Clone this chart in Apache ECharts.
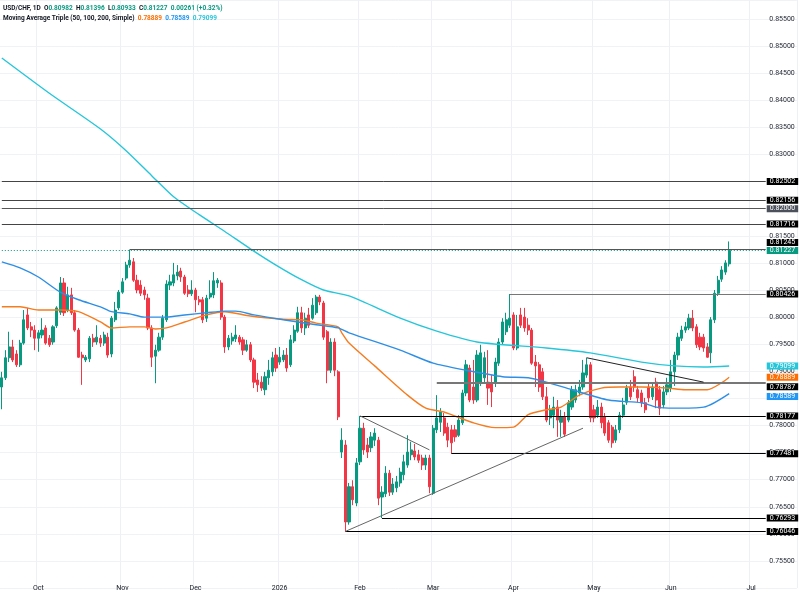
<!DOCTYPE html>
<html><head><meta charset="utf-8">
<script src="https://cdn.jsdelivr.net/npm/echarts@6/dist/echarts.min.js"></script>
<style>html,body{margin:0;padding:0;background:#fff}#c{width:800px;height:594px}</style>
</head><body><div id="c"></div>
<script>
// ---------- data ----------
const firstDate = '2025-09-17';      // first daily bar (weekdays only)
const categoryCount = 218;           // bars on the axis incl. empty future space
// daily candles: [open, close, low, high]
const ohlc = [
[0.7871,0.7888,0.7830,0.7899],[0.7888,0.7925,0.7884,0.7939],[0.7925,0.7945,0.7917,0.7973],[0.7945,0.7921,0.7917,0.7958],
[0.7932,0.7912,0.7908,0.7939],[0.7912,0.7952,0.7908,0.7958],[0.7952,0.7995,0.7949,0.8013],[0.8004,0.7980,0.7976,0.8017],
[0.7982,0.7976,0.7963,0.7991],[0.7976,0.7961,0.7939,0.7985],
[0.7961,0.7971,0.7936,0.7976],[0.7967,0.7976,0.7961,0.7998],[0.7980,0.7952,0.7949,0.7985],[0.7961,0.7949,0.7945,0.7967],
[0.7954,0.7982,0.7949,0.7985],[0.7984,0.8017,0.7980,0.8020],[0.8009,0.8063,0.8004,0.8074],[0.8063,0.8008,0.8002,0.8072],
[0.8013,0.8041,0.8009,0.8056],[0.8041,0.8008,0.8004,0.8054],[0.8008,0.7976,0.7973,0.8013],[0.7976,0.7926,0.7925,0.7980],
[0.7930,0.7925,0.7875,0.7936],[0.7921,0.7926,0.7917,0.7930],[0.7923,0.7961,0.7917,0.7965],[0.7961,0.7954,0.7945,0.7969],
[0.7954,0.7963,0.7949,0.7985],[0.7961,0.7952,0.7945,0.7967],[0.7952,0.7967,0.7947,0.7973],[0.7963,0.7930,0.7925,0.7971],
[0.7932,0.7998,0.7926,0.8002],[0.7995,0.8013,0.7991,0.8028],[0.8017,0.8046,0.8013,0.8050],[0.8046,0.8065,0.8043,0.8072],
[0.8072,0.8096,0.8068,0.8102],[0.8096,0.8105,0.8091,0.81245],[0.8102,0.8068,0.8065,0.8109],[0.8068,0.8050,0.8044,0.8078],
[0.8059,0.8044,0.8039,0.8068],[0.8050,0.8041,0.8032,0.8056],[0.8035,0.7980,0.7976,0.8043],[0.7980,0.7926,0.7908,0.7985],
[0.7928,0.7939,0.7878,0.7949],[0.7939,0.7963,0.7936,0.7971],[0.7963,0.7998,0.7958,0.8004],[0.7995,0.8061,0.7991,0.8068],
[0.8059,0.8065,0.8050,0.8078],[0.8063,0.8078,0.8057,0.8100],[0.8076,0.8083,0.8068,0.8096],[0.8085,0.8074,0.8065,0.8091],
[0.8074,0.8044,0.8041,0.8078],[0.8050,0.8043,0.8037,0.8059],[0.8043,0.8050,0.8039,0.8068],[0.8050,0.8032,0.8009,0.8054],
[0.8032,0.8028,0.8022,0.8039],[0.8032,0.7995,0.7989,0.8037],[0.7998,0.8035,0.7991,0.8041],[0.8037,0.8044,0.8033,0.8068],
[0.8041,0.8067,0.8035,0.8083],[0.8063,0.8068,0.8054,0.8072],[0.8063,0.8000,0.7995,0.8068],[0.8000,0.7945,0.7934,0.8004],
[0.7945,0.7961,0.7939,0.7967],[0.7956,0.7963,0.7949,0.7971],[0.7960,0.7967,0.7954,0.7985],[0.7963,0.7954,0.7949,0.7967],
[0.7958,0.7939,0.7930,0.7963],[0.7939,0.7949,0.7936,0.7958],[0.7949,0.7921,0.7917,0.7954],[0.7921,0.7880,0.7869,0.7925],
[0.7884,0.7875,0.7862,0.7897],[0.7880,0.7869,0.7864,0.7891],[0.7866,0.7890,0.7856,0.7899],[0.7888,0.7902,0.7875,0.7921],
[0.7899,0.7925,0.7891,0.7936],[0.7930,0.7906,0.7899,0.7943],[0.7917,0.7926,0.7912,0.7945],[0.7921,0.7930,0.7917,0.7939],
[0.7930,0.7906,0.7899,0.7943],[0.7912,0.7958,0.7908,0.7967],[0.7956,0.7976,0.7952,0.7985],[0.7974,0.8008,0.7971,0.8019],
[0.8008,0.7980,0.7971,0.8019],[0.7980,0.7998,0.7967,0.8008],[0.8004,0.7985,0.7980,0.8017],[0.7998,0.8022,0.7995,0.8035],
[0.8008,0.8037,0.8004,0.8041],[0.8037,0.8028,0.8022,0.8041],[0.8026,0.7963,0.7958,0.8030],[0.7973,0.7902,0.7878,0.7976],
[0.7902,0.7954,0.7897,0.7961],[0.7954,0.7902,0.7891,0.7961],[0.7899,0.7816,0.7810,0.7902],[0.7751,0.7773,0.7740,0.7795],
[0.7764,0.7622,0.76046,0.7773],[0.7622,0.7687,0.7617,0.7694],[0.7687,0.7663,0.7653,0.7699],[0.7657,0.7731,0.7651,0.7740],
[0.7733,0.7795,0.7727,0.78177],[0.7795,0.7755,0.7746,0.7805],[0.7764,0.7751,0.7740,0.7777],[0.7759,0.7779,0.7751,0.7788],
[0.7773,0.7786,0.7762,0.7795],[0.7773,0.7666,0.7653,0.7779],[0.7668,0.7677,0.76293,0.7688],[0.7674,0.7712,0.7668,0.7725],
[0.7712,0.7677,0.7670,0.7718],[0.7677,0.7692,0.7672,0.7703],[0.7685,0.7696,0.7677,0.7707],[0.7694,0.7714,0.7687,0.7722],
[0.7709,0.7733,0.7699,0.7746],[0.7727,0.7751,0.7722,0.7782],[0.7746,0.7755,0.7736,0.7770],[0.7753,0.7742,0.7736,0.7766],
[0.7746,0.7736,0.7731,0.7755],[0.7740,0.7727,0.7718,0.7746],[0.7727,0.7740,0.7718,0.7746],[0.7740,0.7687,0.7675,0.7746],
[0.7675,0.7795,0.7672,0.7801],[0.7792,0.7814,0.7786,0.7856],[0.7806,0.7825,0.7788,0.7832],[0.7814,0.7786,0.7781,0.7823],
[0.7797,0.7773,0.7760,0.7805],[0.7792,0.7768,0.77481,0.7801],[0.7792,0.7779,0.7770,0.7801],[0.7782,0.7810,0.7779,0.7819],
[0.7805,0.7860,0.7801,0.7866],[0.7860,0.7912,0.7854,0.7921],[0.7906,0.7847,0.7843,0.7912],[0.7871,0.7847,0.7840,0.7921],
[0.7847,0.7930,0.7843,0.7939],[0.7878,0.7934,0.7873,0.7949],[0.7888,0.7925,0.7880,0.7936],[0.7880,0.7869,0.7838,0.7939],
[0.7878,0.7862,0.7834,0.7893],[0.7878,0.7917,0.7871,0.7925],[0.7915,0.7954,0.7910,0.7961],[0.7954,0.7991,0.7949,0.7998],
[0.7973,0.7995,0.7967,0.8008],[0.7985,0.7998,0.7980,0.80426],[0.8004,0.7943,0.7939,0.8009],[0.7943,0.7982,0.7939,0.8004],
[0.8004,0.7985,0.7980,0.8017],[0.8000,0.7980,0.7973,0.8017],[0.7985,0.7976,0.7967,0.7998],[0.7976,0.7915,0.7912,0.7980],
[0.7917,0.7910,0.7871,0.7930],[0.7912,0.7871,0.7862,0.7917],[0.7899,0.7853,0.7847,0.7906],[0.7853,0.7810,0.7806,0.7871],
[0.7814,0.7829,0.7801,0.7838],[0.7819,0.7834,0.7795,0.7853],[0.7834,0.7810,0.7779,0.7847],[0.7806,0.7816,0.7779,0.7829],
[0.7816,0.7784,0.7779,0.7825],[0.7810,0.7842,0.7806,0.7847],[0.7834,0.7866,0.7829,0.7873],[0.7847,0.7866,0.7842,0.7875],
[0.7860,0.7871,0.7854,0.7884],[0.7871,0.7897,0.7866,0.7921],[0.7893,0.7912,0.7888,0.7925],[0.7912,0.7814,0.7806,0.7917],
[0.7829,0.7814,0.7806,0.7838],[0.7819,0.7834,0.7814,0.7847],[0.7834,0.7805,0.7795,0.7842],[0.7816,0.7786,0.7781,0.7823],
[0.7805,0.7773,0.7768,0.7810],[0.7797,0.7768,0.7759,0.7801],[0.7773,0.7792,0.7768,0.7801],[0.7792,0.7819,0.7786,0.7825],
[0.7819,0.7838,0.7814,0.7851],[0.7843,0.7869,0.7838,0.7875],[0.7871,0.7853,0.7847,0.7884],[0.7890,0.7871,0.7862,0.7902],
[0.7866,0.7851,0.7843,0.7873],[0.7860,0.7842,0.7834,0.7866],[0.7842,0.7829,0.7823,0.7851],[0.7871,0.7851,0.7843,0.7878],
[0.7853,0.7871,0.7847,0.7878],[0.7880,0.7847,0.7832,0.7888],[0.7866,0.7832,0.7819,0.7873],[0.7838,0.7862,0.7832,0.7873],
[0.7862,0.7875,0.7856,0.7888],[0.7869,0.7899,0.7862,0.7921],[0.7899,0.7930,0.7873,0.7936],[0.7930,0.7963,0.7921,0.7971],
[0.7961,0.7976,0.7956,0.7984],[0.7976,0.7982,0.7971,0.7991],[0.7980,0.7998,0.7976,0.8006],[0.7998,0.7980,0.7974,0.8013],
[0.7982,0.7949,0.7943,0.7987],[0.7963,0.7945,0.7939,0.7971],[0.7963,0.7943,0.7936,0.7969],[0.7945,0.7926,0.7925,0.7952],
[0.7934,0.7995,0.7915,0.8000],[0.7995,0.8044,0.7989,0.8050],[0.8044,0.8068,0.8039,0.8076],[0.8070,0.8087,0.8065,0.8094],
[0.8083,0.8100,0.8078,0.8105],[0.80982,0.81227,0.80933,0.81396]
];
// moving averages: bar index -> value
const ma50Idx  = [0,5,10,16,21,27,30,35,39,42,45,50,56,61,68,77,82,86,92,93,95,102,111,116,121,123,129,135,140,144,149,153,158,164,169,175,182,187,193,197,199];
const ma50Val  = [0.8019,0.8019,0.8013,0.8013,0.8010,0.7991,0.7980,0.7982,0.7982,0.7978,0.7980,0.7991,0.8004,0.8010,0.8002,0.7996,0.7995,0.7989,0.7982,0.7971,0.7952,0.7910,0.7856,0.7832,0.7825,0.7820,0.7805,0.7796,0.7797,0.7820,0.7829,0.7834,0.7856,0.7869,0.7871,0.7871,0.7869,0.7866,0.7866,0.7879,0.78889];
const ma100Idx = [0,5,10,16,21,27,30,35,39,45,50,56,61,64,69,77,86,92,95,109,118,127,137,144,149,156,166,175,179,184,192,199];
const ma100Val = [0.8102,0.8091,0.8074,0.8046,0.8032,0.8019,0.8010,0.8006,0.8000,0.8000,0.8004,0.8008,0.8011,0.8011,0.8004,0.7995,0.7986,0.7980,0.7971,0.7939,0.7915,0.7902,0.7890,0.7888,0.7880,0.7866,0.7847,0.7842,0.7834,0.7832,0.7834,0.78589];
const ma200Idx = [0,13,27,34,41,47,54,61,68,75,82,88,95,109,119,130,149,161,175,184,192,199];
const ma200Val = [0.8478,0.8413,0.8347,0.8307,0.8261,0.8222,0.8189,0.8158,0.8126,0.8096,0.8069,0.8050,0.8039,0.7998,0.7974,0.7954,0.7943,0.7934,0.7917,0.7910,0.7908,0.79099];
// horizontal levels and the bar where each starts
const levelValues = [0.82502,0.82156,0.82000,0.81716,0.81245,0.80426,0.78787,0.78177,0.77481,0.76293,0.76046];
const levelStart  = [0,0,0,0,35,139,119,98,123,104,94];
// trend lines: [startBar, startValue, endBar, endValue]
const trendLines = [[98,0.78177,117,0.7755],[94,0.76046,159,0.7795],[160,0.7925,192,0.7880]];
const lastPrice = 0.81227;
const header = {symbol:'USD/CHF, 1D', o:'0.80982', h:'0.81396', l:'0.80933', c:'0.81227', chg:'0.00261 (+0.32%)'};
const maNames = 'Moving Average Triple (50, 100, 200, Simple)';
const maLast = {ma50:'0.78889', ma100:'0.78589', ma200:'0.79099'};
const yRange = {min:0.75, max:0.858506, step:0.005};

// ---------- chart ----------
function weekdays(start, n){
  const out=[]; const d=new Date(start+'T00:00:00Z');
  while(out.length<n){ const w=d.getUTCDay(); if(w!==0&&w!==6) out.push(d.toISOString().slice(0,10)); d.setUTCDate(d.getUTCDate()+1); }
  return out;
}
const cats = weekdays(firstDate, categoryCount);
const monthNames=['Jan','Feb','Mar','Apr','May','Jun','Jul','Aug','Sep','Oct','Nov','Dec'];
function isMonthStart(i){ return i>0 && cats[i].slice(5,7)!==cats[i-1].slice(5,7); }
const FONT='Roboto, "Liberation Sans", sans-serif';
const UP='#089981', DOWN='#F23645';
const C50='#F57C1F', C100='#2E8FE6', C200='#26C6DA';
const END=209;

function boxLabel(text,bg,shift){
  const pad = shift>0 ? [shift*2,0,0,0] : (shift<0 ? [0,0,-shift*2,0] : 0);
  return {show:true, position:'end', distance:1, padding:pad,
    formatter:'{a|'+text+'}',
    rich:{a:{backgroundColor:bg, color:'#fff', fontSize:7, fontFamily:FONT, lineHeight:8, padding:[0,3,0,3]}}};
}
const levelStyle = [
  {c:'#444',w:1,bg:'#000'},{c:'#444',w:1,bg:'#000'},{c:'#555',w:1,bg:'#4c505b'},{c:'#444',w:1,bg:'#000'},
  {c:'#555',w:1,bg:'#000',shift:-7},{c:'#777',w:1,bg:'#000'},{c:'#777',w:2,bg:'#000',shift:4},
  {c:'#000',w:1,bg:'#000'},{c:'#000',w:1,bg:'#000'},{c:'#000',w:1,bg:'#000'},{c:'#000',w:1,bg:'#000'}
];
const mlData = [];
levelValues.forEach((v,i)=>{
  const s=levelStyle[i];
  mlData.push([{coord:[levelStart[i],v], lineStyle:{color:s.c,width:s.w,type:'solid'}, label:boxLabel(v.toFixed(5),s.bg,s.shift||0)},{coord:[END,v]}]);
});
mlData.push([{coord:[0,lastPrice], lineStyle:{color:UP,width:1,type:[1,2]}, label:boxLabel(lastPrice.toFixed(5),UP,0)},{coord:[END,lastPrice]}]);
[[maLast.ma200,C200,0],[maLast.ma50,'#FF6D00',0],[maLast.ma100,'#2196F3',3]].forEach(([t,bg,sh])=>{
  const v=parseFloat(t);
  mlData.push([{coord:[END-1,v], lineStyle:{color:'rgba(255,255,255,0)',width:0}, label:boxLabel(t,bg,sh)},{coord:[END,v]}]);
});
trendLines.forEach((t,i)=>{
  mlData.push([{coord:[t[0],t[1]], lineStyle:{color:i===2?'#222':'#666',width:1,type:'solid'}, label:{show:false}},{coord:[t[2],t[3]]}]);
});

function maSeries(name, idx, val, color){
  return {name, type:'line', data:idx.map((x,k)=>[x,val[k]]), showSymbol:false, symbol:'none', smooth:0.25,
    lineStyle:{color, width:1.4}, z:4, silent:true};
}
const rs = (c)=>({color:c,fontSize:6.5,fontFamily:FONT,lineHeight:10.5});

const chart = echarts.init(document.getElementById('c'));
chart.setOption({
  animation:false,
  backgroundColor:'#ffffff',
  title:{left:3, top:3, padding:0, text:
    '{t|'+header.symbol+'}  {t|O}{g|'+header.o+'}  {t|H}{g|'+header.h+'}  {t|L}{g|'+header.l+'}  {t|C}{g|'+header.c+'}  {g|'+header.chg+'}\n'+
    '{t|'+maNames+'}  {o|'+maLast.ma50+'}  {b|'+maLast.ma100+'}  {c|'+maLast.ma200+'}',
    textStyle:{fontSize:6.5, fontFamily:FONT, lineHeight:10.5,
      rich:{t:rs('#131722'),g:rs(UP),o:rs('#FF6D00'),b:rs('#2196F3'),c:rs(C200)}}},
  grid:{left:0, right:3.2, top:0, bottom:5.9, containLabel:false},
  xAxis:{type:'category', data:cats, boundaryGap:true, offset:-8,
    axisLine:{show:false}, axisTick:{show:false},
    axisLabel:{interval:(i)=>isMonthStart(i), fontSize:7, fontFamily:FONT, color:'#131722', margin:5,
      formatter:(v)=>{const m=+v.slice(5,7); return m===1? v.slice(0,4) : monthNames[m-1];}},
    splitLine:{show:true, interval:(i)=>isMonthStart(i), lineStyle:{color:'#eef0f5',width:1}}},
  yAxis:{type:'value', position:'right', min:yRange.min, max:yRange.max, interval:yRange.step,
    axisLine:{show:false}, axisTick:{show:false},
    axisLabel:{inside:true, margin:2, fontSize:7, fontFamily:FONT, color:'#2a2e39', showMinLabel:false, showMaxLabel:false,
      formatter:(v)=>v.toFixed(5)},
    splitLine:{lineStyle:{color:'#f0f2f6',width:1}}},
  series:[
    {type:'candlestick', data:ohlc, barWidth:'72%', z:2,
      itemStyle:{color:UP,color0:DOWN,borderColor:UP,borderColor0:DOWN,borderWidth:1},
      markLine:{silent:true, symbol:['none','none'], animation:false, precision:5, z:5, data:mlData}},
    maSeries('MA50', ma50Idx, ma50Val, C50),
    maSeries('MA100', ma100Idx, ma100Val, C100),
    maSeries('MA200', ma200Idx, ma200Val, C200)
  ]
});
</script></body></html>
